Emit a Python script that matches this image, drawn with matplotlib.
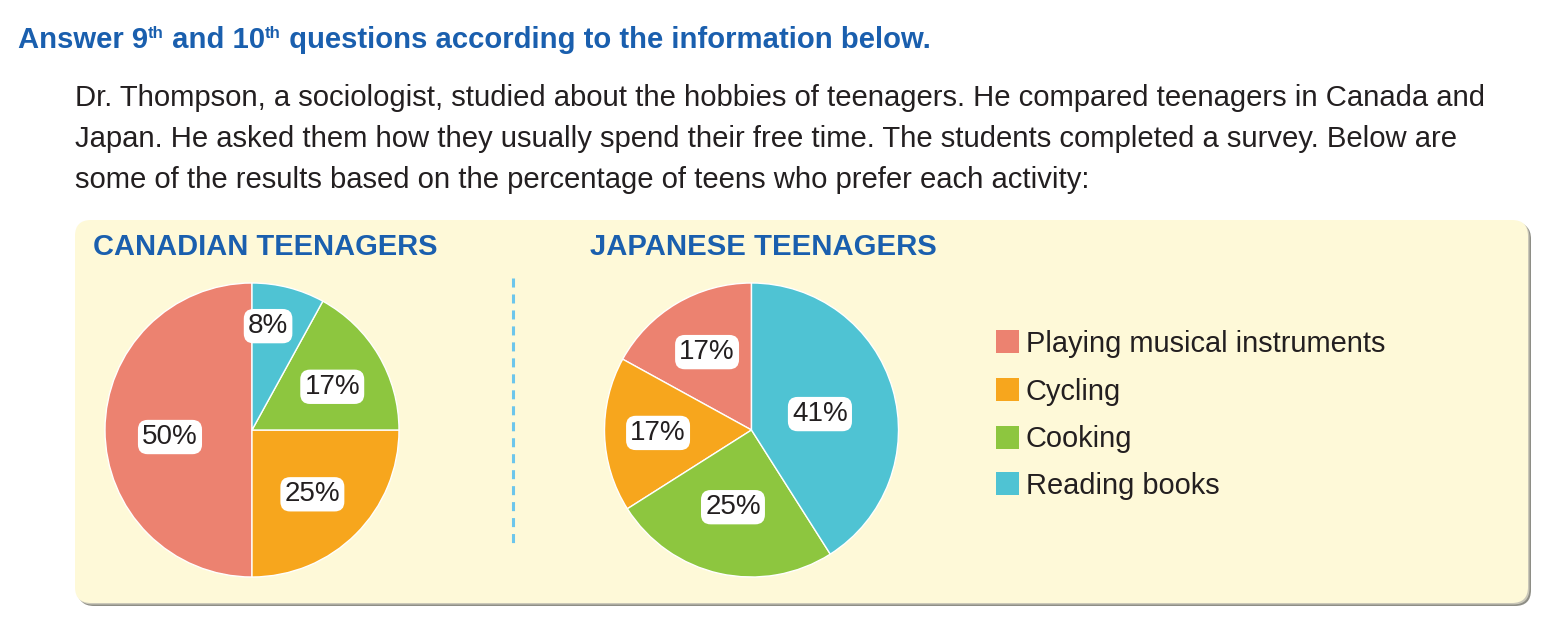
import matplotlib
matplotlib.use("Agg")
import matplotlib.pyplot as plt
from matplotlib.patches import FancyBboxPatch, Rectangle
import numpy as np

# ---------------- data ----------------
categories = ["Playing musical instruments", "Cycling", "Cooking", "Reading books"]
canada_values = [50, 25, 17, 8]
japan_values = [17, 17, 25, 41]
colors = ["#ec8270", "#f7a61d", "#8dc63f", "#4fc3d3"]

heading = ["Answer 9", "th", " and 10", "th", " questions according to the information below."]
heading_super = [False, True, False, True, False]
paragraph = [
    "Dr. Thompson, a sociologist, studied about the hobbies of teenagers. He compared teenagers in Canada and",
    "Japan. He asked them how they usually spend their free time. The students completed a survey. Below are",
    "some of the results based on the percentage of teens who prefer each activity:",
]
pie_titles = ["CANADIAN TEENAGERS", "JAPANESE TEENAGERS"]

# ---------------- style / layout ----------------
W, H = 1561, 621
BLUE = "#1a5fae"
DARK = "#231f20"
PANEL = "#fef9d8"
FONT = ["Liberation Sans", "DejaVu Sans"]
plt.rcParams["font.family"] = FONT
plt.rcParams["lines.scale_dashes"] = False

fig = plt.figure(figsize=(W / 100, H / 100), dpi=100)
fig.patch.set_facecolor("white")
ax0 = fig.add_axes([0, 0, 1, 1])
ax0.set_xlim(0, W)
ax0.set_ylim(H, 0)
ax0.axis("off")
renderer = fig.canvas.get_renderer()


def width_px(t):
    return t.get_window_extent(renderer).width


def fit_text(t, target):
    for _ in range(3):
        w = width_px(t)
        t.set_fontsize(t.get_fontsize() * target / w)


# heading with superscripts
def draw_heading(x0, baseline, target_w):
    size = 20.0
    objs = []
    for txt, sup in zip(heading, heading_super):
        objs.append(ax0.text(0, baseline, txt, color=BLUE, fontweight="bold",
                             fontsize=size, va="baseline", ha="left"))
    for _ in range(3):
        for o, sup in zip(objs, heading_super):
            o.set_fontsize(size * (0.58 if sup else 1.0))
        total = sum(width_px(o) for o in objs)
        size *= target_w / total
    for o, sup in zip(objs, heading_super):
        o.set_fontsize(size * (0.58 if sup else 1.0))
    x = x0
    spx = size * 100 / 72
    for o, sup in zip(objs, heading_super):
        o.set_x(x)
        o.set_y(baseline - (0.33 * spx if sup else 0))
        x += width_px(o)


draw_heading(18, 48, 907)

# paragraph
p_base = [106, 147, 188]
pt = ax0.text(75, p_base[0], paragraph[0], color=DARK, fontsize=20, va="baseline")
fit_text(pt, 1410)
psize = pt.get_fontsize()
for line, yb in zip(paragraph[1:], p_base[1:]):
    ax0.text(75, yb, line, color=DARK, fontsize=psize, va="baseline")

# panel with shadow
px0, py0, px1, py1 = 75, 220, 1528, 603
ax0.add_patch(FancyBboxPatch((px0 + 3, py0 + 3), px1 - px0, py1 - py0,
                             boxstyle="round,pad=0,rounding_size=16",
                             fc="#8e8e86", ec="none", zorder=1))
ax0.add_patch(FancyBboxPatch((px0 + 1.5, py0 + 1.5), px1 - px0, py1 - py0,
                             boxstyle="round,pad=0,rounding_size=16",
                             fc="#c9c7b8", ec="none", zorder=1))
ax0.add_patch(FancyBboxPatch((px0, py0), px1 - px0, py1 - py0,
                             boxstyle="round,pad=0,rounding_size=16",
                             fc=PANEL, ec="none", zorder=2))

# pie titles
for title, x0, x1 in zip(pie_titles, [93, 590], [437, 937]):
    t = ax0.text(x0, 255, title, color=BLUE, fontweight="bold", fontsize=20,
                 va="baseline", zorder=3)
    fit_text(t, x1 - x0)

# dashed separator
ax0.plot([513, 513], [278, 545], color="#6cc6ec", lw=2.2, dashes=(6.5, 5.0),
         solid_capstyle="butt", dash_capstyle="butt", zorder=3)

# legend
leg_y = [341.5, 389.5, 437, 483.5]
leg_texts = []
for cat, col, yc in zip(categories, colors, leg_y):
    ax0.add_patch(Rectangle((996, yc - 11.5), 23, 23, fc=col, ec="none", zorder=3))
    leg_texts.append(ax0.text(1026, yc + 10, cat, color=DARK, fontsize=18,
                              va="baseline", zorder=3))
fit_text(leg_texts[0], 360)
for t in leg_texts[1:]:
    t.set_fontsize(leg_texts[0].get_fontsize())


# pies
def draw_pie(values, cx, cy, r, dists, shifts):
    ax = fig.add_axes([(cx - r) / W, (H - (cy + r)) / H, 2 * r / W, 2 * r / H])
    wedges, _ = ax.pie(values, colors=colors, startangle=90, counterclock=True,
                       wedgeprops=dict(edgecolor="white", linewidth=1.0))
    ax.set_xlim(-1, 1)
    ax.set_ylim(-1, 1)
    ax.set_aspect("equal")
    ax.axis("off")
    for w, v, d, s in zip(wedges, values, dists, shifts):
        ang = np.deg2rad((w.theta1 + w.theta2) / 2 + s)
        ax.text(d * np.cos(ang), d * np.sin(ang), f"{v}%", ha="center", va="center",
                fontsize=20, color=DARK,
                bbox=dict(boxstyle="round,pad=0.15,rounding_size=0.35",
                          fc="white", ec="none"))
    return ax


draw_pie(canada_values, 252, 430, 147, [0.56, 0.60, 0.62, 0.715], [4.9, -1.8, -2.3, 5.6])
draw_pie(japan_values, 751.5, 430, 147, [0.61, 0.636, 0.54, 0.478], [-0.9, 0.0, -0.9, -3.1])

fig.savefig("out.png", dpi=100, facecolor="white")
